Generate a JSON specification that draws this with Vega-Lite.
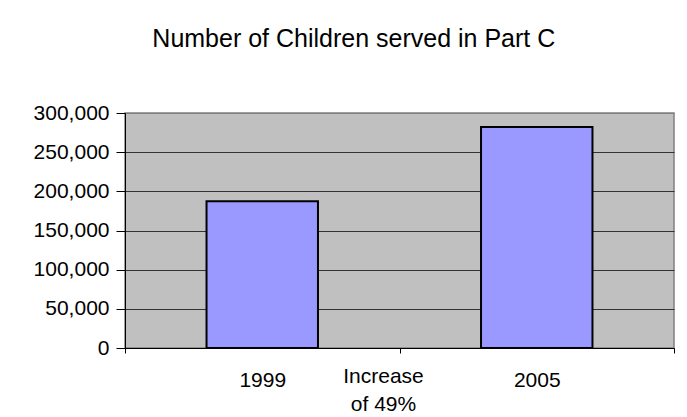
{
  "$schema": "https://vega.github.io/schema/vega-lite/v6.json",
  "width": 549,
  "height": 235,
  "autosize": {"type": "none"},
  "padding": {"left": 125, "top": 113, "right": 13, "bottom": 69},
  "background": "white",
  "title": {
    "text": "Number of Children served in Part C",
    "frame": "bounds",
    "anchor": "middle",
    "fontSize": 25,
    "font": "Liberation Sans",
    "fontWeight": "normal",
    "color": "black",
    "offset": 50
  },
  "data": {
    "values": [
      {"year": "1999", "children": 187500},
      {"year": "2005", "children": 282000}
    ]
  },
  "layer": [
    {
      "mark": {
        "type": "bar",
        "fill": "#9999FF",
        "stroke": "black",
        "strokeWidth": 2,
        "width": {"band": 0.406}
      },
      "encoding": {
        "x": {
          "field": "year",
          "type": "nominal",
          "scale": {"paddingInner": 0, "paddingOuter": 0},
          "axis": {
            "title": null,
            "labelAngle": 0,
            "tickBand": "extent",
            "tickSize": 5,
            "labelPadding": 16,
            "domainColor": "black",
            "tickColor": "black",
            "labelColor": "black",
            "labelFont": "Liberation Sans",
            "labelFontSize": 21,
            "labelOverlap": false,
            "grid": false
          }
        },
        "y": {
          "field": "children",
          "type": "quantitative",
          "scale": {"domain": [0, 300000]},
          "axis": {
            "title": null,
            "values": [0, 50000, 100000, 150000, 200000, 250000, 300000],
            "format": ",d",
            "grid": true,
            "gridColor": {"condition": {"test": "datum.value === 300000", "value": "#808080"}, "value": "#333333"},
            "gridWidth": 1.2,
            "domainColor": "black",
            "tickColor": "black",
            "tickSize": 9,
            "labelPadding": 7,
            "labelColor": "black",
            "labelFont": "Liberation Sans",
            "labelFontSize": 21,
            "labelOverlap": false
          }
        }
      }
    },
    {
      "data": {"values": [{"year": "1999", "note": "Increase\nof 49%"}]},
      "mark": {
        "type": "text",
        "baseline": "top",
        "align": "center",
        "dx": -16,
        "dy": 18,
        "lineBreak": "\n",
        "lineHeight": 28,
        "fontSize": 21,
        "font": "Liberation Sans",
        "color": "black"
      },
      "encoding": {
        "x": {"field": "year", "type": "nominal", "bandPosition": 1},
        "y": {
          "datum": 0,
          "type": "quantitative",
          "axis": {
            "title": null,
            "values": [0, 50000, 100000, 150000, 200000, 250000, 300000],
            "format": ",d",
            "grid": true,
            "gridColor": {"condition": {"test": "datum.value === 300000", "value": "#808080"}, "value": "#333333"},
            "gridWidth": 1.2,
            "domainColor": "black",
            "tickColor": "black",
            "tickSize": 9,
            "labelPadding": 7,
            "labelColor": "black",
            "labelFont": "Liberation Sans",
            "labelFontSize": 21,
            "labelOverlap": false
          }
        },
        "text": {"field": "note"}
      }
    }
  ],
  "config": {
    "view": {"fill": "#C0C0C0", "stroke": "#808080", "strokeWidth": 1.5}
  }
}
